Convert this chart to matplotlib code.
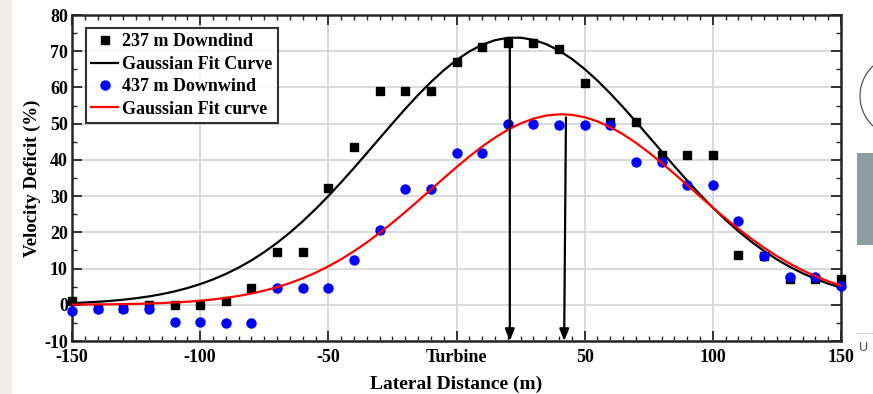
import matplotlib
matplotlib.use("Agg")
import matplotlib.pyplot as plt
import matplotlib.patches as mpatches
from matplotlib.transforms import IdentityTransform

# lateral positions of the measurements (m)
lateral = [-150, -140, -130, -120, -110, -100, -90, -80, -70, -60, -50,
           -40, -30, -20, -10, 0, 10, 20, 30, 40, 50,
           60, 70, 80, 90, 100, 110, 120, 130, 140, 150]

# measured velocity deficit (%)
deficit_237 = [1.0, -1.0, -1.0, 0.0, 0.0, 0.0, 1.0, 4.5, 14.7, 14.7, 32.3,
               43.5, 59.1, 59.1, 59.1, 66.9, 71.1, 72.4, 72.4, 70.5, 61.3,
               50.5, 50.5, 41.4, 41.3, 41.3, 13.7, 13.5, 7.1, 7.1, 7.1]
deficit_437 = [-1.6, -1.2, -1.2, -1.2, -4.8, -4.8, -5.0, -5.0, 4.5, 4.5, 4.5,
               12.4, 20.7, 32.0, 32.0, 42.0, 42.0, 49.8, 49.8, 49.6, 49.6,
               49.6, 39.4, 39.4, 33.0, 33.0, 23.0, 13.5, 7.8, 7.8, 5.2]

# gaussian fit curves, every 5 m
fit_lateral = [-150, -145, -140, -135, -130, -125, -120, -115, -110, -105,
               -100, -95, -90, -85, -80, -75, -70, -65, -60, -55,
               -50, -45, -40, -35, -30, -25, -20, -15, -10, -5,
               0, 5, 10, 15, 20, 25, 30, 35, 40, 45,
               50, 55, 60, 65, 70, 75, 80, 85, 90, 95,
               100, 105, 110, 115, 120, 125, 130, 135, 140, 145, 150]
fit_237 = [0.46, 0.62, 0.82, 1.07, 1.40, 1.81, 2.31, 2.93, 3.69, 4.61,
           5.70, 6.99, 8.50, 10.26, 12.26, 14.54, 17.09, 19.93, 23.03, 26.40,
           30.01, 33.81, 37.77, 41.85, 45.96, 50.06, 54.07, 57.90, 61.48, 64.72,
           67.56, 69.93, 71.78, 73.04, 73.70, 73.74, 73.15, 71.96, 70.18, 67.88,
           65.08, 61.88, 58.34, 54.54, 50.55, 46.46, 42.34, 38.26, 34.27, 30.45,
           26.82, 23.42, 20.29, 17.42, 14.83, 12.52, 10.48, 8.70, 7.16, 5.84, 4.73]
fit_437 = [0.05, 0.07, 0.09, 0.13, 0.18, 0.25, 0.35, 0.48, 0.64, 0.85,
           1.12, 1.47, 1.90, 2.44, 3.10, 3.90, 4.85, 5.99, 7.31, 8.85,
           10.60, 12.58, 14.79, 17.21, 19.84, 22.65, 25.61, 28.68, 31.80, 34.93,
           38.00, 40.94, 43.68, 46.15, 48.30, 50.06, 51.39, 52.24, 52.59, 52.44,
           51.78, 50.64, 49.05, 47.06, 44.71, 42.06, 39.19, 36.17, 33.06, 29.92,
           26.83, 23.82, 20.95, 18.24, 15.73, 13.43, 11.37, 9.52, 7.90, 6.49, 5.28]

# wake centre arrows: (x top, y top, x bottom)
arrows = [(20.8, 73.2, 20.8), (42.7, 51.7, 42.0)]

xticks = [-150, -100, -50, 0, 50, 100, 150]
xtick_labels = ["-150", "-100", "-50", "Turbine", "50", "100", "150"]
yticks = [-10, 0, 10, 20, 30, 40, 50, 60, 70, 80]

plt.rcParams["font.family"] = ["Liberation Serif", "DejaVu Serif"]
plt.rcParams["font.weight"] = "bold"
plt.rcParams["axes.unicode_minus"] = False

fig = plt.figure(figsize=(8.73, 3.94), dpi=100)
ax = fig.add_axes([72 / 873, 53 / 394, 769 / 873, 326 / 394])

ax.plot(lateral, deficit_237, "s", color="black", ms=5.5, clip_on=False,
        zorder=3, label="237 m Downdind")
ax.plot(fit_lateral, fit_237, "-", color="black", lw=1.6, zorder=4,
        label="Gaussian Fit Curve")
ax.plot(lateral, deficit_437, "o", color="#0000ff", ms=7.5, mec="none",
        clip_on=False, zorder=5, label="437 m Downwind")
ax.plot(fit_lateral, fit_437, "-", color="#ff0000", lw=1.6, zorder=6,
        label="Gaussian Fit curve")

for xt, yt, xb in arrows:
    ax.annotate("", xy=(xb, -10), xytext=(xt, yt),
                arrowprops=dict(arrowstyle="-|>,head_length=0.7,head_width=0.28",
                                color="black", lw=1.6, shrinkA=0, shrinkB=0),
                zorder=7)

ax.set_xlim(-150, 150)
ax.set_ylim(-10, 80)
ax.set_xticks(xticks)
ax.set_xticklabels(xtick_labels)
ax.set_yticks(yticks)
ax.set_xticks(range(-150, 151, 5), minor=True)
ax.set_yticks(range(-10, 81, 5), minor=True)
ax.grid(True, which="major", color="#d9d9d9", lw=1.4)
ax.set_axisbelow(True)
ax.tick_params(which="both", direction="in", top=True, right=True,
               color="#262626", labelsize=13)
ax.tick_params(which="major", length=7, width=1.3)
ax.tick_params(which="minor", length=3.5, width=1.0)
ax.tick_params(axis="x", which="major", pad=6)
ax.tick_params(axis="y", which="major", pad=3)
for lab in ax.get_xticklabels() + ax.get_yticklabels():
    lab.set_fontweight("bold")
for sp in ax.spines.values():
    sp.set_linewidth(1.8)
    sp.set_color("#262626")

ax.set_xlabel("Lateral Distance (m)", fontsize=14, fontweight="bold", labelpad=7)
ax.set_ylabel("Velocity Deficit (%)", fontsize=13.5, fontweight="bold", labelpad=2)

leg = ax.legend(loc="upper left", bbox_to_anchor=(0.018, 0.96),
                prop={"weight": "bold", "size": 13}, frameon=True, fancybox=False,
                edgecolor="black", handlelength=1.5, handletextpad=0.2,
                labelspacing=0.3, borderpad=0.3, borderaxespad=0)
leg.get_frame().set_linewidth(1.5)

# slide background pieces around the chart
fig.add_artist(mpatches.Rectangle((0, 0), 12, 394, transform=IdentityTransform(),
                                  color="#efeee9", lw=0))
fig.add_artist(mpatches.Rectangle((857, 394 - 245), 20, 92, transform=IdentityTransform(),
                                  color="#8d9ea2", lw=0))
fig.add_artist(mpatches.Circle((901, 394 - 96), 41, transform=IdentityTransform(),
                               fill=False, ec="#444444", lw=0.8))
fig.add_artist(mpatches.Rectangle((857, 394 - 334), 20, 1.2, transform=IdentityTransform(),
                                  color="#c8cde0", lw=0))
fig.text(859 / 873, 1 - 348 / 394, "U", fontsize=9, color="#444444",
         fontweight="normal", family="Liberation Sans", va="center")

fig.savefig("out.png", dpi=100)
